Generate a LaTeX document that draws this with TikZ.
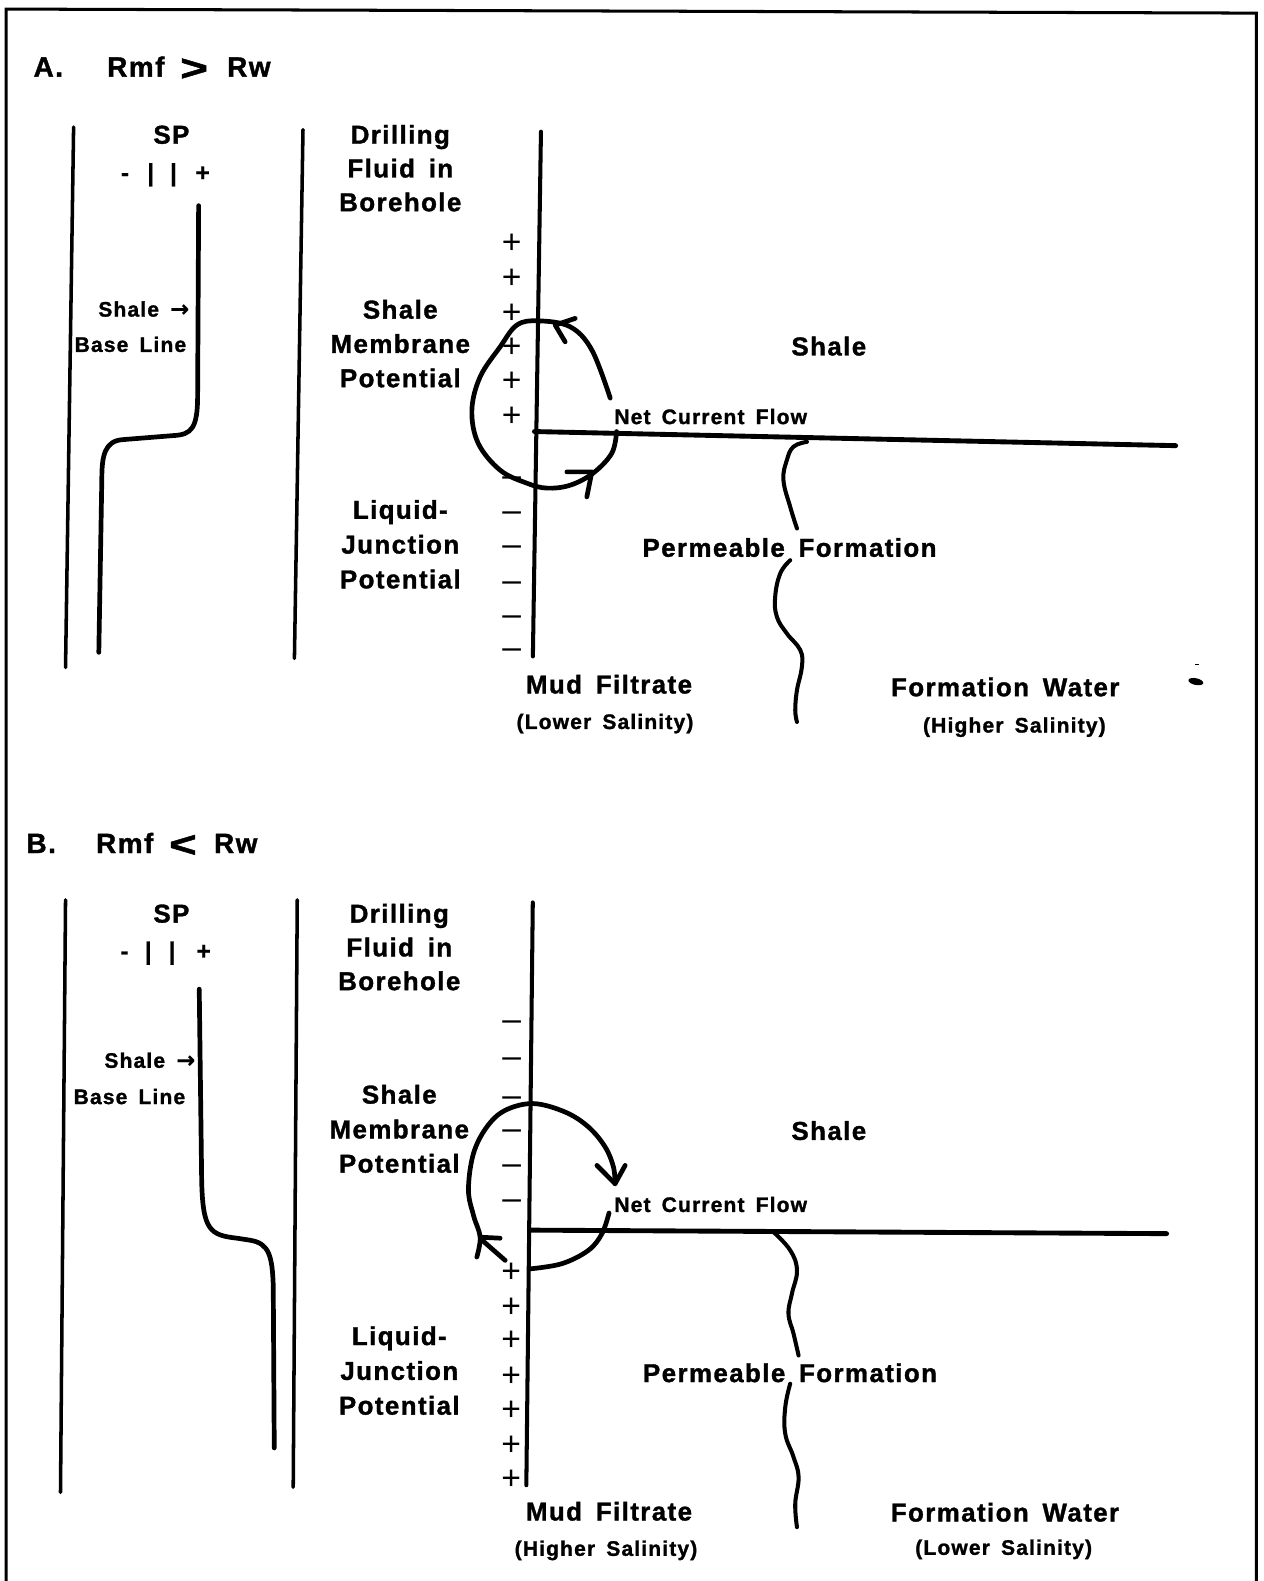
\documentclass[tikz,border=0pt]{standalone}
\usepackage{fontspec}
\usepackage{graphicx}
\setmainfont{Liberation Sans}
\newfontfamily\lbf{Liberation Sans}[LetterSpace=5.5,WordSpace=1.6,BoldFeatures={FakeBold=1.3}]
\newfontfamily\sgnfont{Liberation Sans}[BoldFeatures={FakeBold=0.6}]
\newfontfamily\arrfont{DejaVu Sans}[BoldFeatures={FakeBold=0.5}]
\tikzset{
  lab/.style={font=\lbf\bfseries\fontsize{15.4}{17}\selectfont, inner sep=0pt, anchor=base},
  slab/.style={font=\lbf\bfseries\fontsize{12.5}{14}\selectfont, inner sep=0pt, anchor=base},
  ttl/.style={font=\lbf\bfseries\fontsize{16.6}{19}\selectfont, inner sep=0pt, anchor=base west},
  sgn/.style={font=\sgnfont\fontsize{20}{22}\selectfont, inner sep=0pt, anchor=base},
  spr/.style={font=\sgnfont\bfseries\fontsize{14.7}{17}\selectfont, inner sep=0pt, anchor=base},
  frame/.style={line width=1.8pt, line cap=round},
  wall/.style={line width=2.1pt, line cap=round},
  bnd/.style={line width=2.4pt, line cap=round},
  hbnd/.style={line width=2.9pt, line cap=round},
  spcurve/.style={line width=2.8pt, line cap=round, line join=round},
  loop/.style={line width=2.8pt, line cap=round, line join=round},
  wave/.style={line width=2.4pt, line cap=round, line join=round},
}
\newcommand{\sparrow}{{\arrfont\bfseries\fontsize{13.5}{14}\selectfont →}}
\begin{document}
\begin{tikzpicture}[x=0.6pt,y=-0.6pt]
\useasboundingbox (0,0) rectangle (1253,1568);
% frame
\draw[frame] (6,1568) -- (6,9) -- (1246,13) -- (1246,1568);

% ================= PANEL A =================
\node[ttl] (tA) at (33,76) {A.};
\node[ttl] (tArmf) at (106,76) {Rmf};
\node[ttl, anchor=base] (tAgt) at (192.5,76) {\raisebox{-2.4pt}{\scalebox{1.7}[1.32]{>}}};
\node[ttl] (tArw) at (225,76) {Rw};

% SP track
\draw[wall] (73,126) -- (65,662);
\draw[wall] (300.5,128.5) -- (292,653);
\node[lab] (spA) at (170,142.5) {SP};
\node[spr] (spAm) at (124,179.5) {-};
\node[spr] (spAb1) at (149.5,179.5) {|};
\node[spr] (spAb2) at (172,179.5) {|};
\node[spr] (spAp) at (201,179.5) {+};
\draw[spcurve] (197,204) -- (196,392) .. controls (196,425) and (190,431) .. (172,432)
  -- (122,436) .. controls (104,437) and (101,452) .. (101,474) -- (98,647);
\node[slab, anchor=base east] (shaleA) at (188,314) {Shale \sparrow};
\node[slab, anchor=base east] (baseA) at (185,349) {Base Line};

% labels
\node[lab] (drA1) at (397,142.5) {Drilling};
\node[lab] (drA2) at (397,176) {Fluid in};
\node[lab] (drA3) at (397,209.5) {Borehole};
\node[lab] (smA1) at (397,316) {Shale};
\node[lab] (smA2) at (397,350) {Membrane};
\node[lab] (smA3) at (397,384) {Potential};
\node[lab] (ljA1) at (397,514.5) {Liquid-};
\node[lab] (ljA2) at (397,549) {Junction};
\node[lab] (ljA3) at (397,583.5) {Potential};

% boundary
\draw[bnd] (536.5,130.6) -- (528.5,651);
\draw[hbnd] (530,428) -- (1166,442);

% signs
\foreach \y [count=\i] in {240,274.5,309,342.5,377,411.7}
  \node[sgn] (pA\i) at (507.5,\y+11.7) {+};
\foreach \y [count=\i] in {474,509,543,578,612,645}
  \node[sgn] (mA\i) at (507.5,\y+8.4) {–};

% current loop A
\draw[loop] plot[smooth, tension=0.6] coordinates {(605.2,394.8) (587,347.2) (565.5,324.1) (533.7,318.2) (512.6,322.4) (496,344) (476.2,373.7) (468,406.7) (474.2,439.5) (496,466.3) (522.5,479.2) (542.4,484.1) (565.5,481.2) (588.3,469.2) (606.8,449.4) (611.5,428)};
\draw[loop] (570.4,315.8) -- (550.6,322.4) -- (560.5,339);
\draw[loop] (562.2,468) -- (587,468) -- (582,492.8);

\node[slab, anchor=base west] (ncfA) at (609,420.6) {Net Current Flow};
\node[lab] (shRA) at (822,352.5) {Shale};
\node[lab] (pfA) at (783,552.2) {Permeable Formation};
\node[lab] (mfA) at (604,687.8) {Mud Filtrate};
\node[slab] (mfsA) at (600,723) {(Lower Salinity)};
\node[lab] (fwA) at (997,690.5) {Formation Water};
\node[slab] (fwsA) at (1006,726.5) {(Higher Salinity)};

% wavy A
\draw[wave] plot[smooth, tension=0.7] coordinates {(800.3,438.2) (787,443) (780.4,456.3) (777,476.2) (783.7,502.7) (790.4,524.1)};
\draw[wave] plot[smooth, tension=0.7] coordinates {(783.7,555.6) (773.8,568.8) (768.8,591.9) (770.5,611.8) (780.4,628.3) (793.7,644.8) (795.3,661.4) (790.4,684.5) (788.7,704.4) (790.4,716)};

% speck
\fill[rotate around={-12:(1186,676)}] (1186,676) ellipse [x radius=4.5pt, y radius=2pt];
\draw[line width=0.8pt] (1185,659) -- (1189,659);

% ================= PANEL B =================
\node[ttl] (tB) at (26,846) {B.};
\node[ttl] (tBrmf) at (95,846) {Rmf};
\node[ttl, anchor=base] (tBlt) at (181.5,846) {\raisebox{-2.4pt}{\scalebox{1.7}[1.32]{<}}};
\node[ttl] (tBrw) at (212,846) {Rw};

\draw[wall] (65,892.5) -- (60,1480);
\draw[wall] (294.8,892.5) -- (290.8,1475);
\node[lab] (spB) at (170,915) {SP};
\node[spr] (spBm) at (123.5,951.5) {-};
\node[spr] (spBb1) at (147,951.5) {|};
\node[spr] (spBb2) at (170.7,951.5) {|};
\node[spr] (spBp) at (202,951.5) {+};
\draw[spcurve] (197.6,981) -- (200,1170) .. controls (201,1220) and (208,1225) .. (235,1228)
  -- (248,1230) .. controls (267,1233) and (270,1246) .. (271,1275) -- (272,1436);
\node[slab, anchor=base east] (shaleB) at (194,1059) {Shale \sparrow};
\node[slab, anchor=base east] (baseB) at (184,1095) {Base Line};

\node[lab] (drB1) at (396,915) {Drilling};
\node[lab] (drB2) at (396,948.5) {Fluid in};
\node[lab] (drB3) at (396,982) {Borehole};
\node[lab] (smB1) at (396,1094.5) {Shale};
\node[lab] (smB2) at (396,1129) {Membrane};
\node[lab] (smB3) at (396,1163) {Potential};
\node[lab] (ljB1) at (396,1334) {Liquid-};
\node[lab] (ljB2) at (396,1368.5) {Junction};
\node[lab] (ljB3) at (396,1403) {Potential};

\draw[bnd] (528.4,895) -- (522,1473);
\draw[hbnd] (525,1220) -- (1157,1223.5);

\foreach \y [count=\i] in {1013.5,1050.6,1089,1122,1156.7,1191.5}
  \node[sgn] (mB\i) at (507.5,\y+8.4) {–};
\foreach \y [count=\i] in {1260.5,1295,1328,1363,1397.4,1432,1465.6}
  \node[sgn] (pB\i) at (507,\y+11.7) {+};

% current loop B
\draw[loop] plot[smooth, tension=0.6] coordinates {(472.9,1246.7) (476.2,1226.9) (469.6,1205.4) (464.6,1180) (469.5,1144.2) (482.8,1117.7) (501,1101.2) (529,1094.5) (560.5,1102.9) (583.6,1117.7) (600.2,1137.6) (608.4,1157.4) (610,1174)};
\draw[loop] (592,1155.8) -- (610,1174) -- (620,1155.8);
\draw[loop] plot[smooth, tension=0.6] coordinates {(604,1203) (597,1223.5) (583.6,1240) (557.2,1253.3) (525,1258.5)};
\draw[loop] (476.2,1227) -- (496,1228);
\draw[loop] (477,1229) -- (501,1250);

\node[slab, anchor=base west] (ncfB) at (609,1202) {Net Current Flow};
\node[lab] (shRB) at (822,1130.5) {Shale};
\node[lab] (pfB) at (783.5,1370.7) {Permeable Formation};
\node[lab] (mfB) at (604,1508) {Mud Filtrate};
\node[slab] (mfsB) at (601,1543) {(Higher Salinity)};
\node[lab] (fwB) at (996.7,1509) {Formation Water};
\node[slab] (fwsB) at (995.4,1542) {(Lower Salinity)};

\draw[wave] plot[smooth, tension=0.7] coordinates {(767.2,1222) (783.7,1240) (790.4,1260) (785.4,1283) (782,1303) (787,1322.7) (792,1344.3)};
\draw[wave] plot[smooth, tension=0.7] coordinates {(783.7,1372.3) (778.8,1395.5) (778.8,1422) (787,1445) (792,1465) (788.7,1491.4) (790.4,1514.6)};
\end{tikzpicture}
\end{document}
